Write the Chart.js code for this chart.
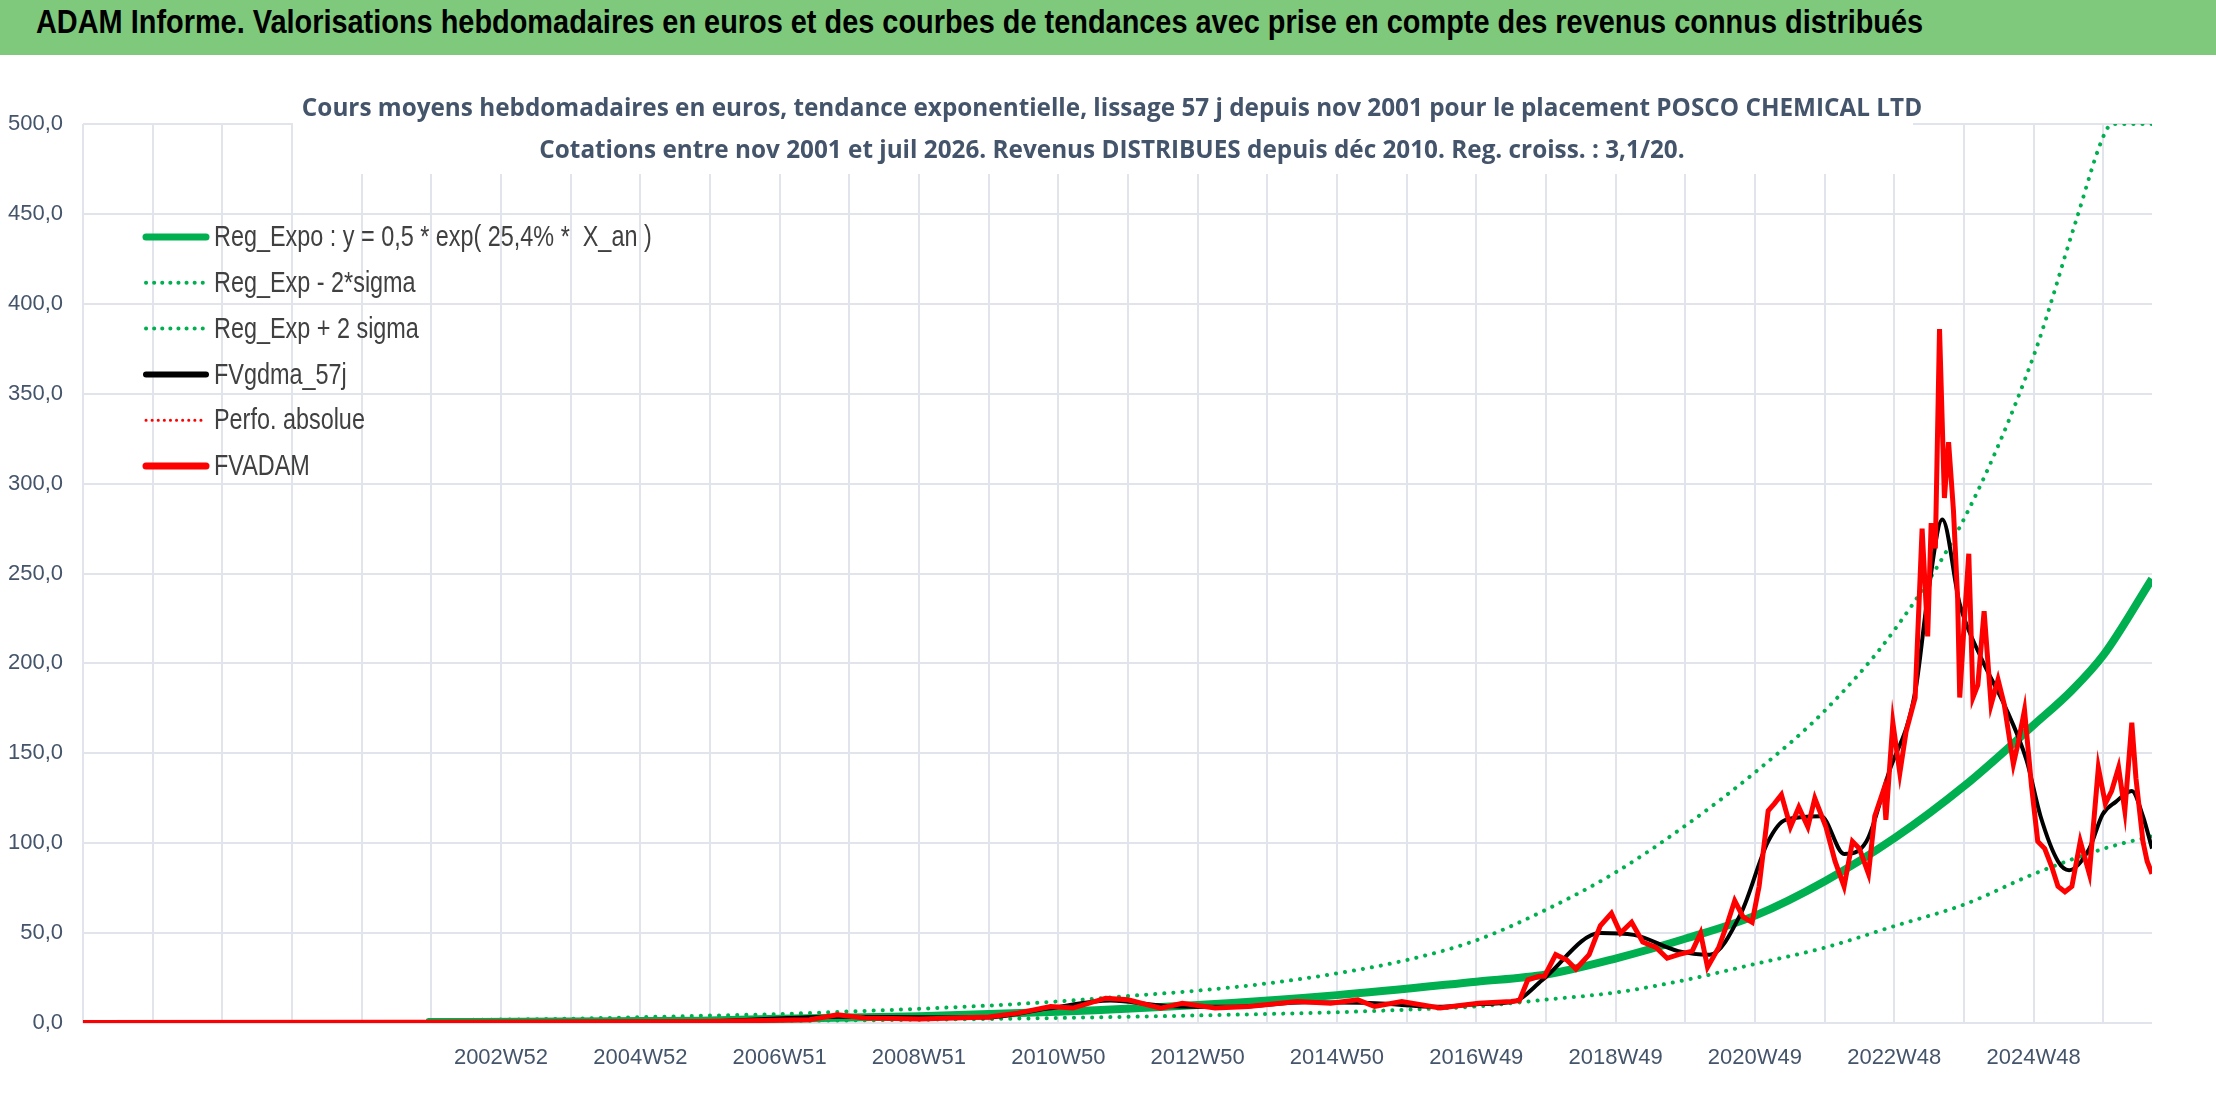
<!DOCTYPE html>
<html>
<head>
<meta charset="utf-8">
<script src="https://cdn.jsdelivr.net/npm/chart.js@4.4.1/dist/chart.umd.min.js"></script>
<style>
  html, body { margin: 0; padding: 0; background: #fff; }
  #wrap { position: relative; width: 2216px; height: 1106px; }
  #bar { position: absolute; left: 0; top: 0; width: 2216px; height: 55px; background: #7fc97c;
         color: #000; line-height: 55px; box-sizing: border-box; white-space: nowrap; }
  #bar span { display: inline-block; transform-origin: 0 50%; transform: scaleX(0.85);
              font: bold 34px 'Liberation Sans', 'DejaVu Sans', sans-serif; margin-left: 36px; }
  #chart { position: absolute; left: 0; top: 0; }
</style>
</head>
<body>
<div id="wrap">
  <canvas id="chart" width="2216" height="1106"></canvas>
  <div id="bar"><span>ADAM Informe. Valorisations hebdomadaires en euros et des courbes de tendances avec prise en compte des revenus connus distribués</span></div>
</div>
<script>
// Axis
const X_MIN = 1996.95;
const X_MAX = 2026.65;
const tickLabels = ["2002W52", "2004W52", "2006W51", "2008W51", "2010W50", "2012W50",
  "2014W50", "2016W49", "2018W49", "2020W49", "2022W48", "2024W48"];
const firstLabelGrid = 6;

const titleLines = [
  "Cours moyens hebdomadaires en euros, tendance exponentielle, lissage 57 j depuis nov 2001 pour le placement POSCO CHEMICAL LTD",
  "Cotations entre nov 2001 et juil 2026. Revenus DISTRIBUES depuis déc 2010. Reg. croiss. : 3,1/20."
];

// Reg_Expo
const trendYears = [2001.9, 2003.95, 2004.95, 2005.8, 2006.95, 2008.95, 2010.95, 2012.95, 2014.95,
  2016.95, 2017.95, 2018.96, 2019.96, 2020.97, 2021.96, 2022.96, 2023.96, 2024.96, 2025.5, 2025.96, 2026.65];
const trendValues = [0.5, 0.85, 1.1, 1.3, 2.3, 3.8, 6.2, 10, 15.5,
  23, 27, 36, 47, 60, 79, 103, 132, 166, 185, 205, 247];

// Reg_Exp + 2 sigma
const upperYears = [2001.9, 2003.95, 2005.8, 2006.95, 2007.95, 2008.95, 2009.95, 2010.95, 2011.95,
  2012.95, 2013.95, 2014.95, 2015.95, 2016.95, 2017.95, 2018.96, 2019.96, 2020.97, 2021.96,
  2022.96, 2023.96, 2024.96, 2025.55, 2026.0, 2026.1, 2026.65];
const upperValues = [1.5, 2.4, 4, 5, 6.4, 7.9, 9.7, 12, 15,
  18, 22, 27.6, 35, 46, 63, 84, 110, 140, 174,
  219, 281, 372, 445, 497, 500, 500];

// Reg_Exp - 2 sigma
const lowerYears = [2001.9, 2005.8, 2008.95, 2010.95, 2012.95, 2014.95, 2015.95, 2016.95, 2017.95,
  2018.96, 2019.96, 2020.97, 2021.96, 2022.96, 2023.96, 2024.96, 2025.96, 2026.65];
const lowerValues = [0.2, 0.9, 1.8, 2.8, 4.2, 6, 7.4, 9.2, 13,
  17, 24, 33, 42, 54, 66, 83, 97, 104];

// FVADAM
const adamYears = [1996.95, 2001.9, 2003.5, 2005.81, 2007.38, 2007.78, 2008.17, 2008.96, 2009.95,
  2010.37, 2010.84, 2011.16, 2011.63, 2011.95, 2012.42, 2012.73, 2013.2, 2013.68, 2014.38,
  2014.86, 2015.25, 2015.49, 2015.88, 2016.43, 2016.98, 2017.45, 2017.57, 2017.69, 2017.85,
  2017.93, 2018.09, 2018.25, 2018.38, 2018.57, 2018.73, 2018.89, 2019.02, 2019.18, 2019.34,
  2019.53, 2019.69, 2019.85, 2020.05, 2020.17, 2020.27, 2020.43, 2020.56, 2020.66, 2020.78,
  2020.91, 2021.01, 2021.14, 2021.23, 2021.33, 2021.46, 2021.58, 2021.71, 2021.81, 2021.97,
  2022.1, 2022.23, 2022.35, 2022.45, 2022.58, 2022.67, 2022.8, 2022.83, 2022.93, 2023.03,
  2023.12, 2023.25, 2023.35, 2023.43, 2023.48, 2023.54, 2023.6, 2023.67, 2023.73, 2023.8,
  2023.86, 2023.89, 2023.96, 2024.02, 2024.08, 2024.15, 2024.24, 2024.34, 2024.44, 2024.53,
  2024.66, 2024.73, 2024.82, 2024.92, 2025.01, 2025.11, 2025.21, 2025.3, 2025.4, 2025.5,
  2025.62, 2025.75, 2025.88, 2025.98, 2026.07, 2026.17, 2026.26, 2026.36, 2026.42, 2026.52,
  2026.58, 2026.65];
const adamValues = [0.3, 0.4, 0.6, 0.9, 1.8, 4.6, 2.8, 2.2, 3.3,
  5.5, 9.2, 8.3, 13.8, 12.9, 8.3, 11, 8.3, 9.2, 12,
  11, 12.9, 9.2, 12, 8.3, 11, 12, 12.5, 24, 26,
  26, 38, 35, 30, 38, 54, 61, 50, 56, 45,
  42, 36, 38, 40, 50, 31, 42, 56, 68, 59,
  56, 76, 118, 122, 127, 109, 120, 109, 125, 109,
  90, 76, 101, 97, 83, 115, 130, 113, 167, 139,
  162, 181, 275, 215, 278, 264, 386, 292, 323, 285,
  236, 181, 226, 261, 181, 188, 229, 177, 191, 177,
  144, 156, 174, 132, 101, 97, 87, 76, 73, 76,
  101, 83, 142, 122, 129, 142, 118, 167, 136, 101,
  90, 83];

// FVgdma_57j
const gdmaYears = [1996.95, 2001.9, 2005.8, 2007.8, 2009.9, 2010.8, 2011.7, 2012.5, 2013.5, 2014.5,
  2015.5, 2016.4, 2017.0, 2017.5, 2017.9, 2018.73, 2019.21, 2019.85, 2020.3, 2020.75,
  2021.14, 2021.39, 2021.9, 2022.23, 2022.55, 2022.87, 2023.25, 2023.44, 2023.64, 2023.89,
  2024.21, 2024.53, 2024.85, 2025.05, 2025.3, 2025.46, 2025.75, 2025.94, 2026.13, 2026.36,
  2026.52, 2026.65];
const gdmaValues = [0.3, 0.4, 0.9, 3.5, 3, 8, 12.5, 9.5, 9, 11.5,
  11, 9, 10.5, 12, 24, 50, 49, 40, 38, 61,
  101, 113, 115, 94, 101, 139, 184, 240, 280, 233,
  202, 177, 146, 115, 90, 85, 97, 116, 123, 129,
  115, 97];

const FONT = "'Liberation Sans', 'DejaVu Sans', sans-serif";

function pts(xs, ys) {
  return xs.map((x, i) => ({ x: x, y: ys[i] }));
}

const legendItems = [
  { text: "Reg_Expo : y = 0,5 * exp( 25,4% *  X_an )", color: "#00b050", width: 7, dash: [] },
  { text: "Reg_Exp - 2*sigma", color: "#00b050", width: 4, dash: [0.1, 8] },
  { text: "Reg_Exp + 2 sigma", color: "#00b050", width: 4, dash: [0.1, 8] },
  { text: "FVgdma_57j", color: "#000000", width: 6, dash: [] },
  { text: "Perfo. absolue", color: "#ff0000", width: 3, dash: [0.1, 6] },
  { text: "FVADAM", color: "#ff0000", width: 7, dash: [] }
];

// Title box and legend drawn on the canvas
const overlay = {
  id: "overlay",
  beforeDatasetsDraw(chart) {
    const ctx = chart.ctx;
    ctx.save();
    ctx.fillStyle = "#fff";
    ctx.fillRect(293, 60, 1620, 114);
    ctx.restore();
  },
  afterDraw(chart) {
    const ctx = chart.ctx;
    ctx.save();
    ctx.fillStyle = "#44546a";
    ctx.textAlign = "center";
    ctx.textBaseline = "middle";
    ctx.font = "bold 24.3px 'Open Sans', sans-serif";
    ctx.fillText(titleLines[0], 1112, 109);
    ctx.fillText(titleLines[1], 1112, 151);

    legendItems.forEach((it, i) => {
      const y = 237 + i * 45.8;
      ctx.beginPath();
      ctx.strokeStyle = it.color;
      ctx.lineWidth = it.width;
      ctx.lineCap = "round";
      ctx.setLineDash(it.dash);
      ctx.moveTo(146, y);
      ctx.lineTo(206, y);
      ctx.stroke();
      ctx.setLineDash([]);
      // condensed text
      ctx.save();
      ctx.translate(214, y + 1);
      ctx.scale(0.78, 1);
      ctx.textAlign = "left";
      ctx.font = "30px " + FONT;
      ctx.fillStyle = "#404040";
      ctx.fillText(it.text, 0, 0);
      ctx.restore();
    });
    ctx.restore();
  }
};

function initChart() {
  const ctx = document.getElementById("chart").getContext("2d");
  new Chart(ctx, {
    type: "line",
    data: {
      datasets: [
        { label: "Reg_Expo", data: pts(trendYears, trendValues), borderColor: "#00b050", borderWidth: 8,
          cubicInterpolationMode: "monotone", order: 5 },
        { label: "Reg_Exp - 2*sigma", data: pts(lowerYears, lowerValues), borderColor: "#00b050", borderWidth: 4,
          borderDash: [0.1, 9], borderCapStyle: "round", cubicInterpolationMode: "monotone", order: 4 },
        { label: "Reg_Exp + 2 sigma", data: pts(upperYears, upperValues), borderColor: "#00b050", borderWidth: 4,
          borderDash: [0.1, 9], borderCapStyle: "round", cubicInterpolationMode: "monotone", order: 3 },
        { label: "FVgdma_57j", data: pts(gdmaYears, gdmaValues), borderColor: "#000000", borderWidth: 4,
          cubicInterpolationMode: "monotone", order: 2 },
        { label: "Perfo. absolue", data: [], borderColor: "#ff0000", borderWidth: 2, borderDash: [2, 4], order: 1 },
        { label: "FVADAM", data: pts(adamYears, adamValues), borderColor: "#ff0000", borderWidth: 5, order: 0 }
      ]
    },
    options: {
      responsive: false,
      animation: false,
      parsing: false,
      elements: { point: { radius: 0 }, line: { tension: 0, fill: false } },
      layout: { padding: { top: 124, right: 64, bottom: 0, left: 0 } },
      plugins: { legend: { display: false }, title: { display: false }, tooltip: { enabled: false } },
      scales: {
        x: {
          type: "linear",
          min: X_MIN,
          max: X_MAX,
          afterBuildTicks(scale) {
            const t = [];
            for (let k = 0; X_MIN + k <= X_MAX; k++) t.push({ value: X_MIN + k });
            scale.ticks = t;
          },
          afterFit(scale) { scale.height = 83; },
          grid: { color: "#e1e4ea", lineWidth: 2, drawTicks: false },
          border: { display: false },
          ticks: {
            autoSkip: false,
            maxRotation: 0,
            padding: 22,
            color: "#44546a",
            font: { family: FONT, size: 22 },
            callback(value) {
              const k = Math.round(value - X_MIN);
              if (k < firstLabelGrid || (k - firstLabelGrid) % 2) return "";
              return tickLabels[(k - firstLabelGrid) / 2] || "";
            }
          }
        },
        y: {
          min: 0,
          max: 500,
          afterFit(scale) { scale.width = 83; },
          grid: { color: "#e1e4ea", lineWidth: 2, drawTicks: false },
          border: { display: false },
          ticks: {
            stepSize: 50,
            padding: 20,
            color: "#44546a",
            font: { family: FONT, size: 22 },
            callback: (v) => v.toFixed(1).replace(".", ",")
          }
        }
      }
    },
    plugins: [overlay]
  });
}

document.addEventListener("DOMContentLoaded", initChart);
</script>
</body>
</html>
